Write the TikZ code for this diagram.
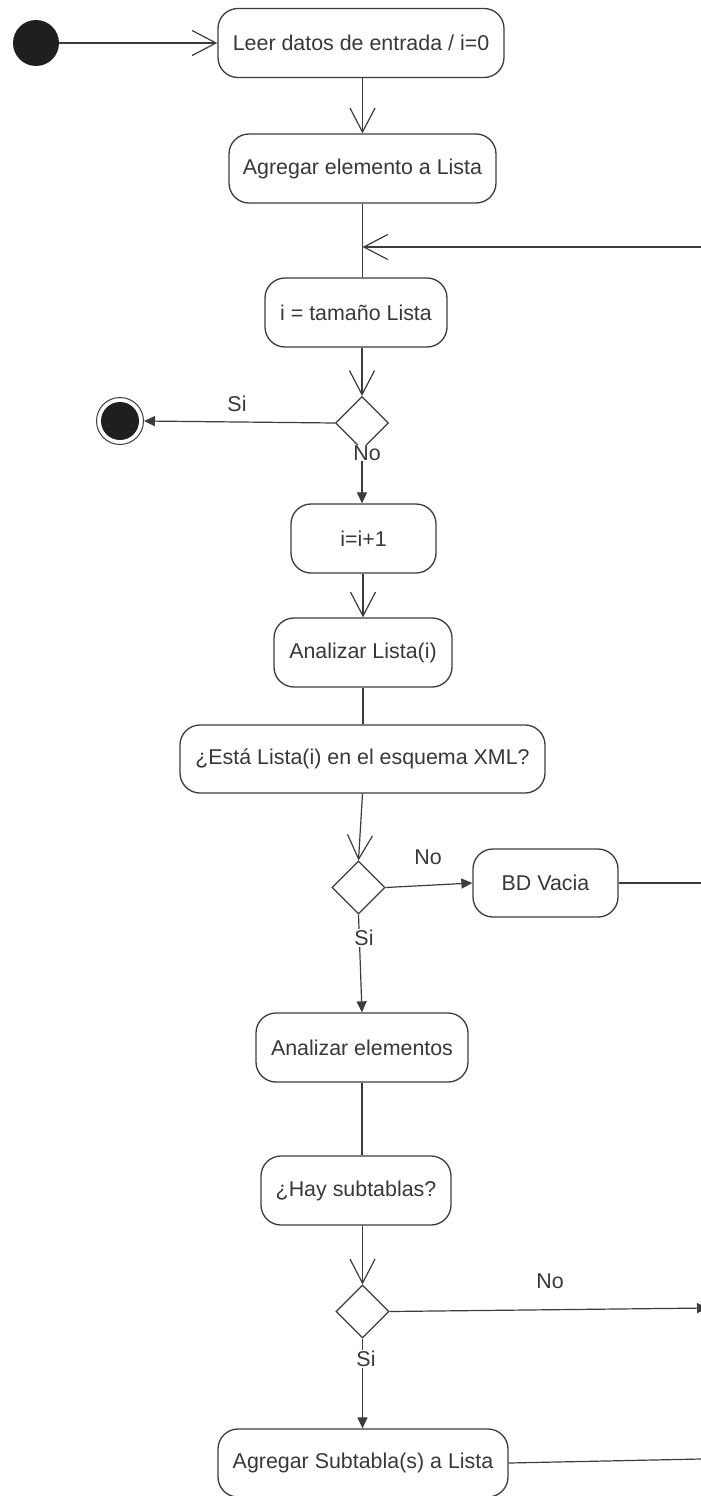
\documentclass[tikz,border=0pt]{standalone}
\usepackage{fontspec}
\setmainfont{Liberation Sans}
\usetikzlibrary{arrows.meta,shapes.geometric}
\definecolor{ln}{HTML}{3C3C3C}
\definecolor{tx}{HTML}{383838}
\begin{document}
\begin{tikzpicture}[x=1pt,y=-1pt,
 txtfont/.style={font=\fontsize{21.4}{24}\selectfont},
 act/.style={draw=ln,line width=1.3pt,rounded corners=20pt,minimum height=69pt,inner sep=0pt,text=tx,txtfont},
 dec/.style={draw=ln,line width=1.2pt,diamond,minimum width=53pt,minimum height=53pt,inner sep=0pt},
 lbl/.style={fill=white,inner sep=1pt,text=tx,txtfont},
 conn/.style={draw=ln,line width=1.2pt},
 openarr/.style={conn,-{Straight Barb[length=24pt,width=25pt]}},
 fillarr/.style={conn,-{Triangle[length=11pt,width=10pt]}},
]
\useasboundingbox (0,0) rectangle (701,1496);
\fill[white] (0,0) rectangle (701,1496);
\clip (0,0) rectangle (701,1496);

% start / end
\node[circle,fill=black!88,minimum size=46pt,inner sep=0pt] (start) at (36,43) {};
\node[circle,draw=ln,line width=1pt,minimum size=47pt,inner sep=0pt] (end) at (120,421) {};
\fill[black!88] (end.center) circle (19);

% activities
\node[act,minimum width=286pt] (b1) at (361,43) {Leer datos de entrada / i=0};
\node[act,minimum width=267pt] (b2) at (362.5,168.5) {Agregar elemento a Lista};
\node[act,minimum width=182pt] (b3) at (356,312.5) {i = tamaño Lista};
\node[dec] (d1) at (362,423) {};
\node[act,minimum width=145pt] (b4) at (363.5,538.5) {i=i+1};
\node[act,minimum width=178pt] (b5) at (363,652.5) {Analizar Lista(i)};
\node[act,minimum width=365pt,minimum height=68pt] (b6) at (362.5,759) {¿Está Lista(i) en el esquema XML?};
\node[dec] (d2) at (358.5,887.5) {};
\node[act,minimum width=145pt,minimum height=68pt] (bd) at (545.5,883) {BD Vacia};
\node[act,minimum width=212pt] (b7) at (362,1047.5) {Analizar elementos};
\node[act,minimum width=190pt] (b8) at (356,1190.5) {¿Hay subtablas?};
\node[dec] (d3) at (362.5,1311.5) {};
\node[act,minimum width=290pt,minimum height=68pt] (b9) at (363,1463) {Agregar Subtabla(s) a Lista};

% free ends on the right edge
\coordinate (r1) at (701,247);
\coordinate (r2) at (701,883);
\coordinate (r3) at (708,1308);
\coordinate (r4) at (701,1459);
\coordinate (j1) at (b2.south |- r1);

% connectors
\draw[openarr] (start) -- (b1.west);
\draw[openarr] (b1.south -| b2.north) -- (b2.north);
\draw[conn] (b2.south) -- (b2.south |- b3.north);
\draw[openarr] (r1) -- (j1);
\draw[openarr] (b3.south -| d1.north) -- (d1.north);
\draw[fillarr] (d1.west) -- (end.east);
\draw[fillarr] (d1.south) -- (d1.south |- b4.north);
\draw[openarr] (b4.south -| b5.north) -- (b5.north);
\draw[conn] (b5.south) -- (b5.south |- b6.north);
\draw[openarr] (b6.south) -- (d2.north);
\draw[fillarr] (d2.east) -- (bd.west);
\draw[conn] (bd.east) -- (r2);
\draw[fillarr] (d2.south) -- (b7.north);
\draw[conn] (b7.south) -- (b7.south |- b8.north);
\draw[openarr] (b8.south -| d3.north) -- (d3.north);
\draw[fillarr] (d3.east) -- (r3);
\draw[fillarr] (d3.south) -- (d3.south |- b9.north);
\draw[conn] (b9.east) -- (r4);

% guard labels
\node[lbl] (s1) at (237,404) {Si};
\node[lbl] (n1) at (367,453) {No};
\node[lbl] (n2) at (428,857) {No};
\node[lbl] (s2) at (364,938) {Si};
\node[lbl] (n3) at (550,1281) {No};
\node[lbl] (s3) at (366,1359) {Si};
\end{tikzpicture}
\end{document}
